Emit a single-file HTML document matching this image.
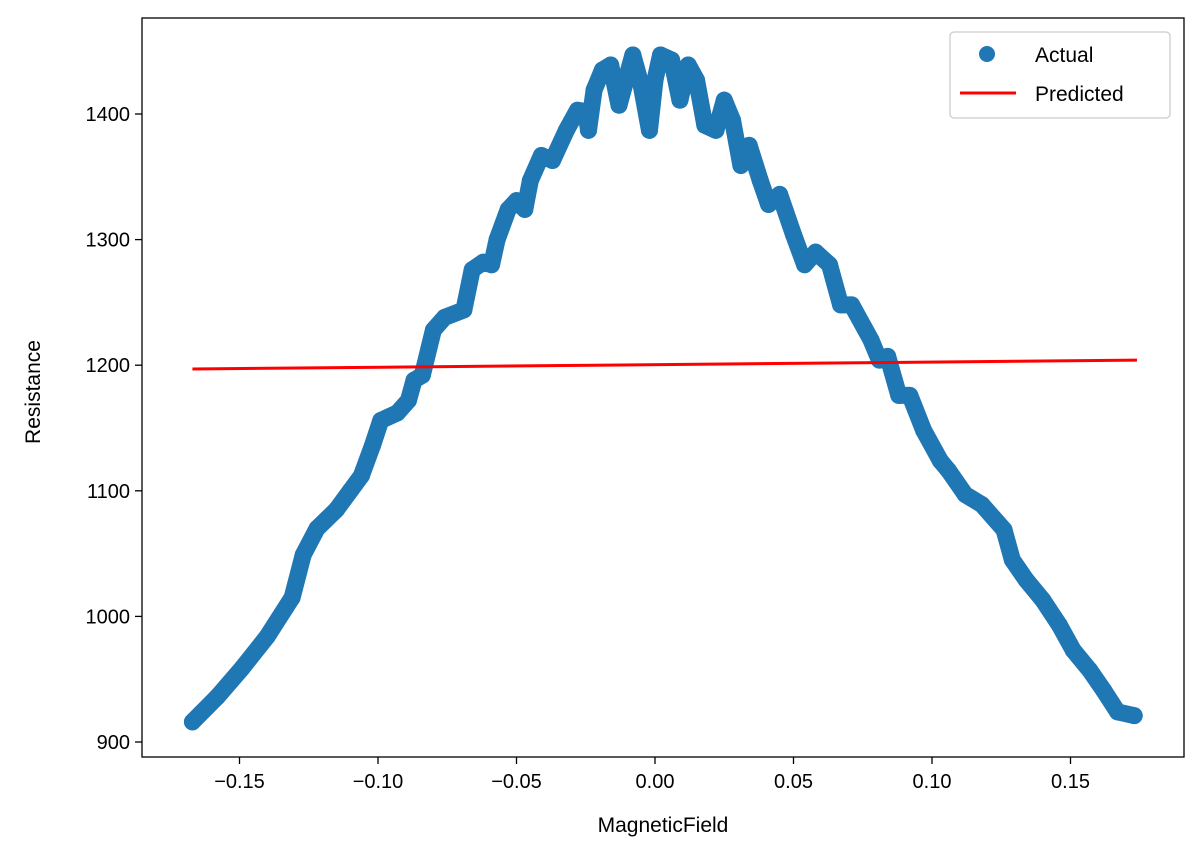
<!DOCTYPE html>
<html><head><meta charset="utf-8"><style>
html,body{margin:0;padding:0;background:#fff;}
svg{display:block;font-family:"Liberation Sans","DejaVu Sans",sans-serif;}
</style></head><body>
<svg id="chart" width="1202" height="858" viewBox="0 0 1202 858">
<rect x="142" y="18" width="1042" height="739" fill="#fff"/>
<g id="series"></g>
<g id="axes"></g>
<rect x="142" y="18" width="1042" height="739" fill="none" stroke="#000" stroke-width="1.3"/>
<text x="663" y="832" font-size="21" text-anchor="middle">MagneticField</text>
<text x="40" y="392" font-size="21" text-anchor="middle" transform="rotate(-90 40 392)">Resistance</text>
<g>
<rect x="950" y="32" width="220" height="86" rx="4" fill="#fff" stroke="#ccc" stroke-width="1.3"/>
<circle cx="987" cy="54" r="8" fill="#1f77b4"/>
<text x="1035" y="62" font-size="21">Actual</text>
<line x1="960" y1="93" x2="1016" y2="93" stroke="red" stroke-width="3"/>
<text x="1035" y="101" font-size="21">Predicted</text>
</g>
</svg>
<script>
const xTicks=[-0.15,-0.10,-0.05,0.00,0.05,0.10,0.15];
const xTickLabels=["\u22120.15","\u22120.10","\u22120.05","0.00","0.05","0.10","0.15"];
const yTicks=[900,1000,1100,1200,1300,1400];
const actualX=[-0.167,-0.158,-0.149,-0.140,-0.131,-0.127,-0.122,-0.115,-0.110,-0.106,-0.102,-0.099,-0.093,-0.089,-0.087,-0.084,-0.080,-0.076,-0.069,-0.066,-0.062,-0.059,-0.057,-0.053,-0.050,-0.047,-0.045,-0.041,-0.037,-0.032,-0.028,-0.025,-0.024,-0.022,-0.019,-0.016,-0.013,-0.010,-0.008,-0.005,-0.002,0.000,0.002,0.006,0.009,0.012,0.015,0.018,0.022,0.025,0.028,0.031,0.034,0.038,0.041,0.045,0.050,0.054,0.058,0.063,0.067,0.071,0.078,0.081,0.084,0.088,0.092,0.097,0.103,0.103,0.106,0.112,0.118,0.126,0.129,0.134,0.140,0.146,0.151,0.157,0.162,0.167,0.173];
const actualY=[916,936,959,984,1015,1049,1070,1085,1100,1112,1136,1156,1162,1172,1188,1192,1228,1238,1244,1276,1282,1280,1300,1324,1331,1324,1347,1367,1363,1387,1403,1402,1387,1419,1435,1439,1407,1431,1447,1423,1387,1427,1447,1443,1411,1439,1427,1391,1387,1411,1395,1359,1375,1347,1328,1336,1304,1280,1290,1280,1248,1248,1220,1204,1207,1176,1176,1148,1124,1124,1116,1097,1089,1069,1045,1029,1013,993,973,957,941,924,921];
const predX=[-0.167,0.174];
const predY=[1197,1204];
const sx=v=>655+v*2770;
const sy=v=>742-(v-900)*1.256;
const NS="http://www.w3.org/2000/svg";
const series=document.getElementById('series');
const axes=document.getElementById('axes');
function mk(tag,attrs,parent){const e=document.createElementNS(NS,tag);for(const k in attrs)e.setAttribute(k,attrs[k]);parent.appendChild(e);return e;}
xTicks.forEach((t,i)=>{
  const l=mk('line',{x1:sx(t),x2:sx(t),y1:757,y2:764,stroke:'#000','stroke-width':1.3},axes);
  
  
  const tx=mk('text',{x:sx(t),y:788,'font-size':20,'text-anchor':'middle'},axes);
  tx.textContent=xTickLabels[i];
  
  
});
yTicks.forEach(t=>{
  const l=mk('line',{x1:135,x2:142,y1:sy(t),y2:sy(t),stroke:'#000','stroke-width':1.3},axes);
  
  
  const tx=mk('text',{x:130,y:sy(t)+7,'font-size':20,'text-anchor':'end'},axes);
  tx.textContent=String(t);
  
  
});
let d='';
actualX.forEach((x,i)=>{d+=(i?'L':'M')+sx(x)+','+sy(actualY[i]);});
const band=mk('path',{d:d,fill:'none',stroke:'#1f77b4','stroke-width':17,'stroke-linejoin':'round','stroke-linecap':'round'},series);


actualX.forEach((x,i)=>{
  const c=mk('circle',{cx:sx(x),cy:sy(actualY[i]),r:8.5,fill:'#1f77b4'},series);
  
  
});
const pl=mk('line',{x1:sx(predX[0]),y1:sy(predY[0]),x2:sx(predX[1]),y2:sy(predY[1]),stroke:'red','stroke-width':3},series);


</script>
</body></html>
